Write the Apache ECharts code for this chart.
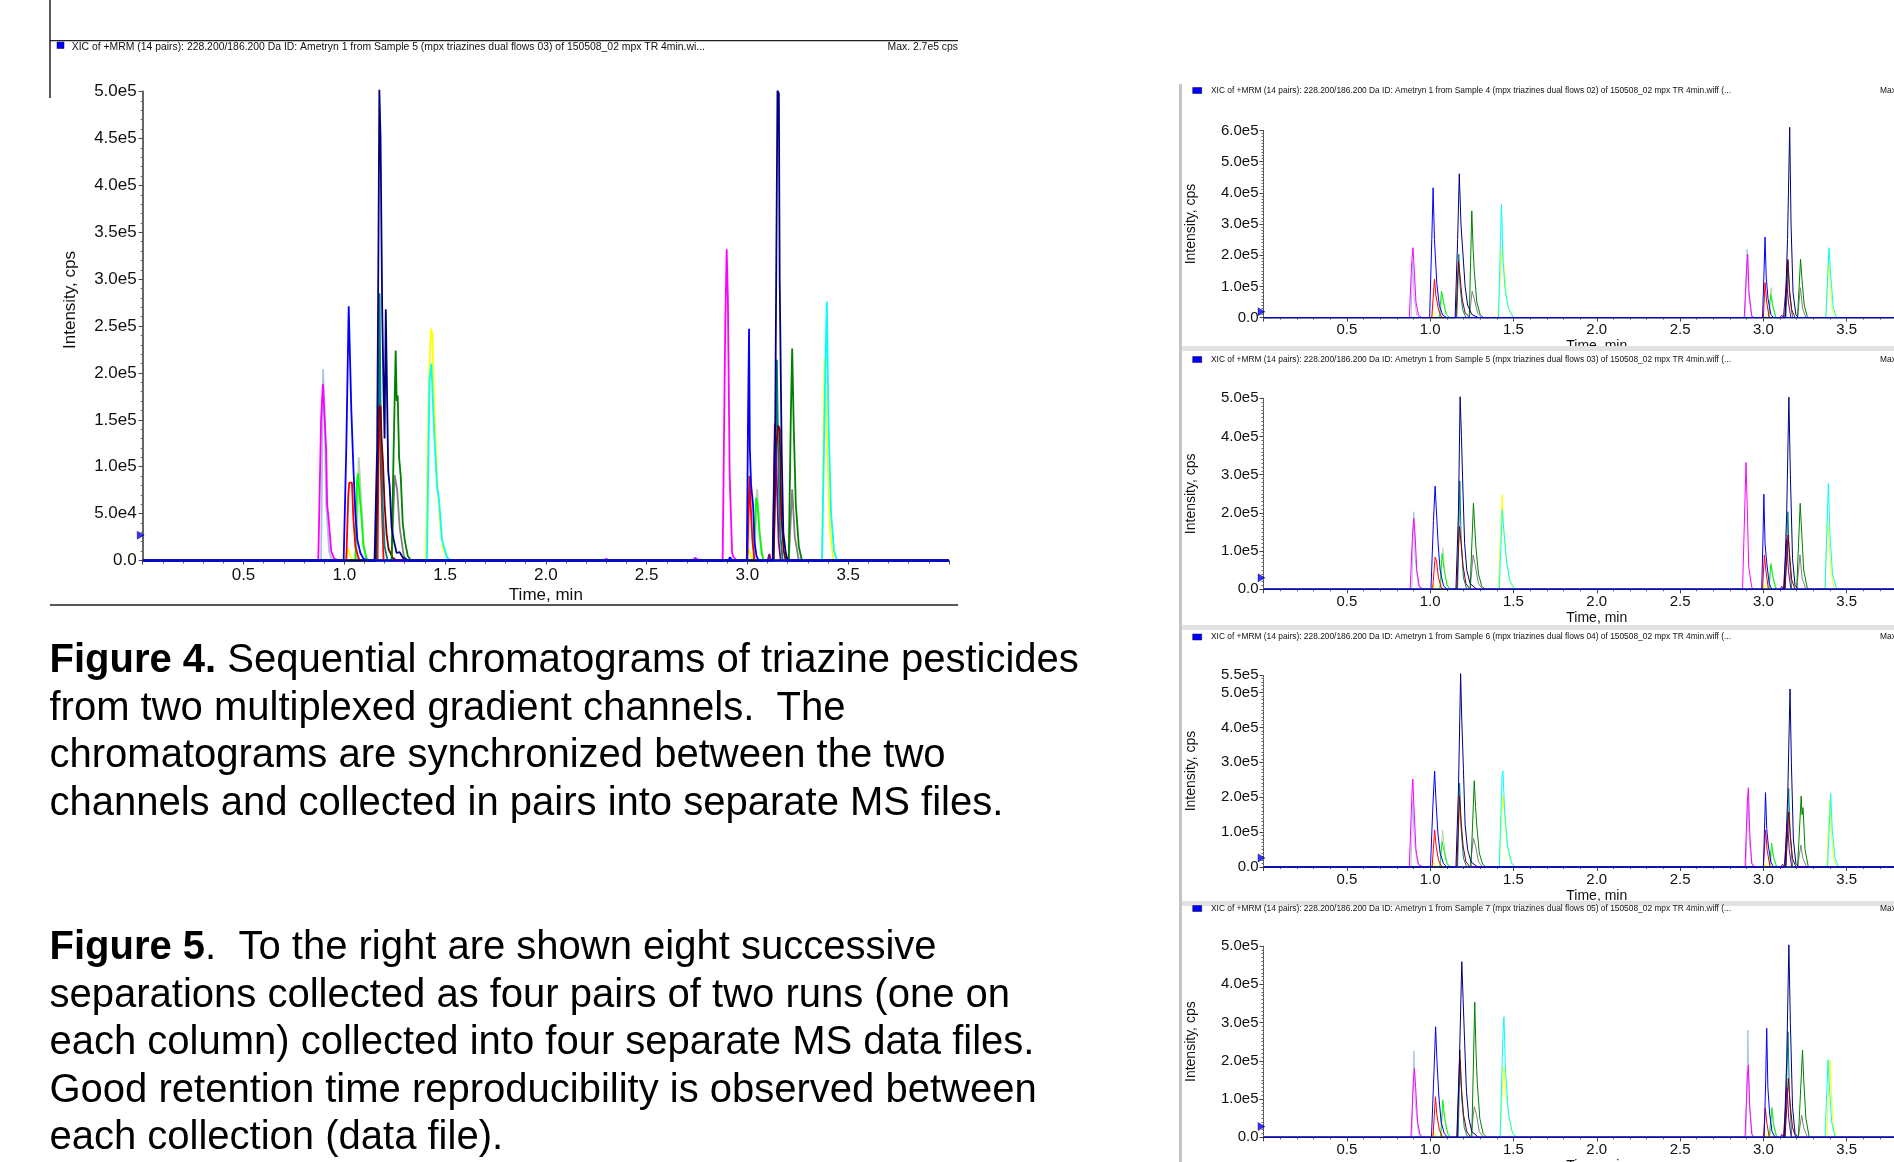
<!DOCTYPE html>
<html>
<head>
<meta charset="utf-8">
<script src="https://cdn.jsdelivr.net/npm/echarts@6/dist/echarts.min.js"></script>
<style>
  html, body { margin: 0; padding: 0; background: #fff; }
  #chart { width: 1894px; height: 1162px; }
</style>
</head>
<body>
<div id="chart"></div>
<script>
// trace order: paleBlue, paleGreen, grey, yellow, cyan, magenta, lightGreen, red, teal, maroon, purple, green, navy, blue
const traceColors = ['#a6c4e6', '#b4d2b4', '#808080', '#ffff00', '#00ffff', '#ff00ff', '#00ff00',
  '#ff0000', '#008080', '#800000', '#800080', '#008000', '#000080', '#0000ff']

const timeRange = [0, 4]
const timeStep = 0.5
const intensityMax = [5e5, 6e5, 5e5, 5.5e5, 5e5]
const intensityStep = [5e4, 1e5, 1e5, 1e5, 1e5]
const thresholdMarks = [2.7e4, 1.9e4, 3e4, 2.6e4, 2.8e4]

const mainSample = 'Sample 5 (mpx triazines dual flows 03) of 150508_02 mpx TR 4min.wi...'
const panelSamples = [
  'Sample 4 (mpx triazines dual flows 02) of 150508_02 mpx TR 4min.wiff (...',
  'Sample 5 (mpx triazines dual flows 03) of 150508_02 mpx TR 4min.wiff (...',
  'Sample 6 (mpx triazines dual flows 04) of 150508_02 mpx TR 4min.wiff (...',
  'Sample 7 (mpx triazines dual flows 05) of 150508_02 mpx TR 4min.wiff (...'
]

// big chromatogram, sample 5: [time min, intensity cps]
const mainTraces = [
  [[0,0],[0.885,0],[0.895,2.04e5],[0.902,1.6e5],[0.91,6e4],[0.925,1e4],[0.94,0],[4,0]],
  [[0,0],[1.06,0],[1.072,1.1e5],[1.08,8e4],[1.095,2e4],[1.11,0],[3.035,0],[3.048,7.6e4],[3.06,3e4],[3.08,0],[4,0]],
  [[0,0],[1.235,0],[1.25,9.1e4],[1.262,7.6e4],[1.275,3.5e4],[1.295,5e3],[1.31,0],[3.205,0],[3.222,7.6e4],[3.235,2.5e4],[3.255,0],[4,0]],
  [[0,0],[1.005,0],[1.018,1.3e4],[1.03,5e3],[1.045,0],[1.405,0],[1.42,1.9e5],[1.43,2.47e5],[1.437,2.42e5],[1.447,1.65e5],[1.46,8.8e4],[1.475,4e4],[1.49,1.2e4],[1.52,0],
   [2.995,0],[3.005,1.3e4],[3.02,3e3],[3.03,0],[3.37,0],[3.383,2.16e5],[3.392,1.5e5],[3.405,6e4],[3.41,3e4],[3.427,0],[4,0]],
  [[0,0],[1.41,0],[1.423,1.92e5],[1.432,2.1e5],[1.445,1.4e5],[1.46,7.9e4],[1.47,6.5e4],[1.485,2.2e4],[1.51,3e3],[1.53,0],
   [3.37,0],[3.388,2.2e5],[3.394,2.76e5],[3.402,1.5e5],[3.415,5e4],[3.43,1e4],[3.445,0],[4,0]],
  [[0,0],[0.871,0],[0.885,1.5e5],[0.894,1.88e5],[0.903,1.86e5],[0.91,1.2e5],[0.915,6e4],[0.922,4.5e4],[0.935,1e4],[0.95,2e3],[0.975,0],
   [2.29,0],[2.3,2e3],[2.31,0],[2.73,0],[2.74,3e3],[2.76,0],
   [2.877,0],[2.89,2.5e5],[2.897,3.32e5],[2.903,2.8e5],[2.912,9e4],[2.924,8e3],[2.93,4e3],[2.947,0],[4,0]],
  [[0,0],[1.055,0],[1.063,8.5e4],[1.068,9.3e4],[1.076,7e4],[1.085,4.7e4],[1.095,1.5e4],[1.11,3e3],[1.12,0],
   [3.03,0],[3.043,6.7e4],[3.05,6e4],[3.06,3e4],[3.07,8e3],[3.08,0],[4,0]],
  [[0,0],[1.01,0],[1.02,7e4],[1.025,8.3e4],[1.038,8.3e4],[1.045,4.5e4],[1.055,1.5e4],[1.07,3e3],[1.08,0],
   [1.165,0],[1.175,2.24e5],[1.182,9e4],[1.195,0],[3.0,0],[3.01,9e4],[3.018,5e4],[3.025,2e4],[3.035,0],[4,0]],
  [[0,0],[1.16,0],[1.17,1.5e5],[1.175,2.85e5],[1.18,1.6e5],[1.19,6e4],[1.2,1.5e4],[1.215,0],
   [3.13,0],[3.14,1.2e5],[3.146,2.14e5],[3.152,1.2e5],[3.162,3e4],[3.175,0],[4,0]],
  [[0,0],[1.155,0],[1.163,6e4],[1.172,1.62e5],[1.18,1.65e5],[1.185,1.3e5],[1.192,1.05e5],[1.2,6e4],[1.21,2.8e4],[1.22,1.2e4],[1.24,3e3],[1.26,0],
   [3.13,0],[3.142,1.2e5],[3.152,1.44e5],[3.16,1.4e5],[3.168,4.7e4],[3.172,4.5e4],[3.18,1e4],[3.19,0],[4,0]],
  [[0,0],[3.1,0],[3.109,7e3],[3.115,0],[3.125,0],[3.136,1.46e5],[3.145,9e4],[3.155,2e4],[3.165,0],[4,0]],
  [[0,0],[1.235,0],[1.245,1.2e5],[1.255,2.24e5],[1.26,1.7e5],[1.265,1.76e5],[1.272,1.1e5],[1.28,9e4],[1.29,4e4],[1.3,2.2e4],[1.315,5e3],[1.33,0],
   [3.205,0],[3.215,1.5e5],[3.222,2.26e5],[3.23,1.4e5],[3.24,6e4],[3.255,1.5e4],[3.27,0],[4,0]],
  [[0,0],[1.15,0],[1.163,1.2e5],[1.17,3.5e5],[1.174,5.02e5],[1.18,4.5e5],[1.188,2.7e5],[1.195,1.8e5],[1.2,1.3e5],[1.206,2.68e5],[1.211,1.95e5],[1.218,9.5e4],[1.225,8e4],
   [1.235,3.5e4],[1.245,2.2e4],[1.26,8e3],[1.275,9e3],[1.29,3e3],[1.32,0],
   [3.126,0],[3.138,1.5e5],[3.149,5.01e5],[3.156,4.98e5],[3.16,3e5],[3.17,1.15e5],[3.178,3e4],[3.19,8e3],[3.2,0],[4,0]],
  [[0,0],[0.997,0],[1.01,1.2e5],[1.022,2.71e5],[1.028,2.2e5],[1.035,1.6e5],[1.045,1e5],[1.055,5e4],[1.065,2.2e4],[1.08,8e3],[1.095,2e3],[1.12,0],
   [2.905,0],[2.914,3.4e3],[2.925,0],[2.997,0],[3.003,1.5e5],[3.008,2.47e5],[3.012,1.2e5],[3.018,8.1e4],[3.022,8.1e4],[3.028,5.9e4],[3.035,2e4],[3.045,5e3],[3.055,0],[4,0]]
]

const sample4Traces = [
  [[0,0],[0.885,0],[0.895,1.8e5],[0.903,7e4],[0.92,8e3],[0.94,0],[2.89,0],[2.902,2.19e5],[2.91,8e4],[2.93,0],[4,0]],
  [[0,0],[1.06,0],[1.072,8e4],[1.085,4e4],[1.1,8e3],[1.12,0],[3.035,0],[3.046,9.6e4],[3.058,3e4],[3.075,0],[4,0]],
  [[0,0],[1.235,0],[1.252,8.5e4],[1.265,6e4],[1.285,1.5e4],[1.31,0],[3.205,0],[3.222,9.6e4],[3.235,3e4],[3.255,0],[4,0]],
  [[0,0],[1.005,0],[1.018,1.5e4],[1.035,0],[1.405,0],[1.425,1.6e5],[1.433,2.35e5],[1.445,1.5e5],[1.46,6e4],[1.48,1.5e4],[1.5,0],[2.995,0],[3.005,1.2e4],[3.02,0],[3.375,0],[3.392,1.98e5],[3.402,1e5],[3.415,2e4],[3.43,0],[4,0]],
  [[0,0],[1.41,0],[1.428,3.63e5],[1.438,1.8e5],[1.45,9e4],[1.47,3e4],[1.5,0],[3.375,0],[3.394,2.24e5],[3.405,1.3e5],[3.42,3e4],[3.44,0],[4,0]],
  [[0,0],[0.875,0],[0.89,1.8e5],[0.897,2.24e5],[0.905,1.5e5],[0.915,5e4],[0.93,8e3],[0.95,0],[2.885,0],[2.9,1.6e5],[2.906,2.03e5],[2.914,8e4],[2.93,5e3],[2.945,0],[4,0]],
  [[0,0],[1.055,0],[1.068,8.5e4],[1.08,5e4],[1.095,1.2e4],[1.115,0],[3.03,0],[3.044,7.5e4],[3.055,4e4],[3.075,0],[4,0]],
  [[0,0],[1.01,0],[1.026,1.23e5],[1.035,7e4],[1.05,2.5e4],[1.07,0],[3.0,0],[3.01,1.12e5],[3.02,5e4],[3.035,0],[4,0]],
  [[0,0],[1.16,0],[1.172,2.03e5],[1.18,1e5],[1.195,2.5e4],[1.215,0],[3.135,0],[3.148,1.81e5],[3.156,8e4],[3.175,0],[4,0]],
  [[0,0],[1.155,0],[1.17,1.81e5],[1.18,1.3e5],[1.192,6e4],[1.21,1.5e4],[1.24,0],[3.13,0],[3.147,1.87e5],[3.157,9e4],[3.17,2.5e4],[3.19,0],[4,0]],
  [[0,0],[3.1,0],[3.11,8e3],[3.12,0],[3.128,0],[3.14,1.2e5],[3.15,5e4],[3.165,0],[4,0]],
  [[0,0],[1.235,0],[1.25,3.42e5],[1.258,2.2e5],[1.265,1.5e5],[1.28,5e4],[1.3,1e4],[1.32,0],[3.205,0],[3.223,1.87e5],[3.232,1.2e5],[3.245,4e4],[3.265,0],[4,0]],
  [[0,0],[1.15,0],[1.165,2.5e5],[1.175,4.61e5],[1.185,3e5],[1.195,2.2e5],[1.21,1e5],[1.225,4e4],[1.25,1e4],[1.29,0],[3.13,0],[3.145,2.5e5],[3.158,6.1e5],[3.166,3e5],[3.178,8e4],[3.195,1e4],[3.21,0],[4,0]],
  [[0,0],[0.997,0],[1.01,2.5e5],[1.018,4.16e5],[1.026,2.5e5],[1.04,1.1e5],[1.055,4e4],[1.075,8e3],[1.1,0],[2.995,0],[3.004,1.5e5],[3.01,2.58e5],[3.017,1.3e5],[3.028,6e4],[3.045,1e4],[3.06,0],[4,0]]
]

const sample5Traces = [
  [[0,0],[0.89,0],[0.902,2.03e5],[0.91,8e4],[0.93,8e3],[0.95,0],[4,0]],
  [[0,0],[1.062,0],[1.076,1.07e5],[1.088,4.5e4],[1.105,8e3],[1.125,0],[3.035,0],[3.048,7e4],[3.06,3e4],[3.08,0],[4,0]],
  [[0,0],[1.24,0],[1.258,9e4],[1.27,6.5e4],[1.29,1.5e4],[1.315,0],[3.2,0],[3.22,9e4],[3.232,3e4],[3.255,0],[4,0]],
  [[0,0],[1.008,0],[1.02,1.4e4],[1.035,0],[1.41,0],[1.425,1.8e5],[1.432,2.47e5],[1.442,1.6e5],[1.455,8.5e4],[1.475,2.5e4],[1.5,0],[2.997,0],[3.006,1.2e4],[3.02,0],[3.37,0],[3.385,1.9e5],[3.395,1.2e5],[3.405,5e4],[3.425,0],[4,0]],
  [[0,0],[1.415,0],[1.433,2.08e5],[1.443,1.5e5],[1.46,7e4],[1.48,2e4],[1.51,0],[3.37,0],[3.39,2.77e5],[3.4,1.4e5],[3.415,4e4],[3.44,0],[4,0]],
  [[0,0],[0.88,0],[0.895,1.5e5],[0.902,1.86e5],[0.91,1.4e5],[0.92,5e4],[0.935,8e3],[0.96,0],[2.875,0],[2.89,2.4e5],[2.896,3.32e5],[2.903,2.2e5],[2.912,6e4],[2.93,5e3],[2.945,0],[4,0]],
  [[0,0],[1.058,0],[1.072,9.4e4],[1.083,5.5e4],[1.1,1.2e4],[1.12,0],[3.032,0],[3.045,6.5e4],[3.056,3.5e4],[3.075,0],[4,0]],
  [[0,0],[1.015,0],[1.03,8.4e4],[1.038,7.5e4],[1.05,3e4],[1.07,0],[2.995,0],[3.006,9e4],[3.015,5e4],[3.03,0],[4,0]],
  [[0,0],[1.165,0],[1.178,2.84e5],[1.186,1.3e5],[1.2,3e4],[1.22,0],[3.13,0],[3.147,2.03e5],[3.155,9e4],[3.17,0],[4,0]],
  [[0,0],[1.16,0],[1.176,1.64e5],[1.186,1.2e5],[1.198,6e4],[1.215,1.5e4],[1.24,0],[3.13,0],[3.148,1.42e5],[3.156,1e5],[3.17,2.5e4],[3.19,0],[4,0]],
  [[0,0],[3.1,0],[3.11,8e3],[3.12,0],[3.128,0],[3.14,1.3e5],[3.15,5e4],[3.165,0],[4,0]],
  [[0,0],[1.24,0],[1.26,2.25e5],[1.268,1.6e5],[1.275,1.1e5],[1.29,4e4],[1.31,8e3],[1.33,0],[3.2,0],[3.221,2.25e5],[3.23,1.5e5],[3.242,5e4],[3.265,0],[4,0]],
  [[0,0],[1.155,0],[1.17,2e5],[1.18,5.04e5],[1.188,4e5],[1.197,2.6e5],[1.207,1.2e5],[1.22,5e4],[1.24,1.5e4],[1.28,0],[3.125,0],[3.14,2e5],[3.153,5.03e5],[3.162,3e5],[3.175,8e4],[3.19,1e4],[3.21,0],[4,0]],
  [[0,0],[1.005,0],[1.02,1.8e5],[1.03,2.7e5],[1.036,2.2e5],[1.048,1.2e5],[1.06,5e4],[1.08,1e4],[1.1,0],[2.99,0],[2.998,1.4e5],[3.003,2.49e5],[3.01,1.2e5],[3.02,7e4],[3.035,1.5e4],[3.05,0],[4,0]]
]

const sample6Traces = [
  [[0,0],[0.885,0],[0.896,1.9e5],[0.905,7e4],[0.925,8e3],[0.945,0],[2.895,0],[2.908,2.0e5],[2.916,7e4],[2.935,0],[4,0]],
  [[0,0],[1.06,0],[1.075,1.06e5],[1.088,4.5e4],[1.105,8e3],[1.125,0],[3.04,0],[3.052,5e4],[3.064,2e4],[3.08,0],[4,0]],
  [[0,0],[1.24,0],[1.26,8.2e4],[1.273,6e4],[1.29,1.5e4],[1.315,0],[3.205,0],[3.225,6.3e4],[3.237,2.5e4],[3.26,0],[4,0]],
  [[0,0],[1.008,0],[1.02,1.4e4],[1.035,0],[1.415,0],[1.43,1.5e5],[1.438,2.06e5],[1.448,1.4e5],[1.46,7e4],[1.48,2e4],[1.505,0],[3.0,0],[3.01,1e4],[3.025,0],[3.38,0],[3.398,1.92e5],[3.408,1e5],[3.42,3e4],[3.44,0],[4,0]],
  [[0,0],[1.415,0],[1.432,2.6e5],[1.437,2.75e5],[1.447,1.6e5],[1.465,6e4],[1.49,1e4],[1.515,0],[3.385,0],[3.404,2.1e5],[3.413,1.1e5],[3.43,2.5e4],[3.45,0],[4,0]],
  [[0,0],[0.875,0],[0.89,2e5],[0.896,2.52e5],[0.904,1.6e5],[0.915,5e4],[0.93,8e3],[0.955,0],[2.89,0],[2.904,1.9e5],[2.91,2.27e5],[2.918,1e5],[2.93,1e4],[2.95,0],[4,0]],
  [[0,0],[1.058,0],[1.072,7.3e4],[1.084,4.5e4],[1.1,1e4],[1.12,0],[3.035,0],[3.05,6.8e4],[3.06,3e4],[3.08,0],[4,0]],
  [[0,0],[1.012,0],[1.027,1.06e5],[1.036,6e4],[1.05,2e4],[1.07,0],[3.0,0],[3.013,1.06e5],[3.022,5e4],[3.04,0],[4,0]],
  [[0,0],[1.165,0],[1.177,2.4e5],[1.186,1.1e5],[1.2,2.5e4],[1.22,0],[3.135,0],[3.152,2.25e5],[3.16,1e5],[3.175,0],[4,0]],
  [[0,0],[1.16,0],[1.176,2.04e5],[1.186,1.3e5],[1.198,6e4],[1.215,1.5e4],[1.24,0],[3.135,0],[3.152,1.58e5],[3.162,9e4],[3.175,2.5e4],[3.195,0],[4,0]],
  [[0,0],[3.105,0],[3.115,8e3],[3.125,0],[3.133,0],[3.145,1.3e5],[3.155,5e4],[3.17,0],[4,0]],
  [[0,0],[1.245,0],[1.265,2.47e5],[1.273,1.7e5],[1.28,1.2e5],[1.295,4e4],[1.315,8e3],[1.335,0],[3.205,0],[3.227,2.03e5],[3.232,1.5e5],[3.238,1.7e5],[3.25,5e4],[3.27,0],[4,0]],
  [[0,0],[1.155,0],[1.17,2.2e5],[1.183,5.54e5],[1.19,4.2e5],[1.2,2.8e5],[1.21,1.2e5],[1.225,5e4],[1.245,1.5e4],[1.285,0],[3.13,0],[3.146,2e5],[3.16,5.1e5],[3.168,3e5],[3.18,8e4],[3.195,1e4],[3.215,0],[4,0]],
  [[0,0],[1.002,0],[1.017,1.8e5],[1.027,2.75e5],[1.034,2e5],[1.046,1e5],[1.06,4e4],[1.08,1e4],[1.1,0],[3.0,0],[3.008,1.3e5],[3.013,2.13e5],[3.02,1.1e5],[3.03,6e4],[3.045,1.5e4],[3.06,0],[4,0]]
]

const sample7Traces = [
  [[0,0],[0.89,0],[0.903,2.26e5],[0.911,9e4],[0.93,1e4],[0.95,0],[2.895,0],[2.907,2.8e5],[2.915,9e4],[2.935,0],[4,0]],
  [[0,0],[1.065,0],[1.078,8e4],[1.09,4e4],[1.105,8e3],[1.125,0],[3.04,0],[3.052,8e4],[3.064,3e4],[3.08,0],[4,0]],
  [[0,0],[1.245,0],[1.265,8e4],[1.278,6e4],[1.295,1.5e4],[1.32,0],[3.21,0],[3.23,5.8e4],[3.242,2.5e4],[3.265,0],[4,0]],
  [[0,0],[1.01,0],[1.022,1.4e4],[1.037,0],[1.42,0],[1.435,1.4e5],[1.443,1.85e5],[1.452,1.2e5],[1.465,8.5e4],[1.485,2e4],[1.51,0],[3.0,0],[3.01,1e4],[3.025,0],[3.38,0],[3.395,1.6e5],[3.4,2.02e5],[3.41,1e5],[3.42,3e4],[3.44,0],[4,0]],
  [[0,0],[1.42,0],[1.438,2.8e5],[1.443,3.15e5],[1.452,1.8e5],[1.47,6e4],[1.495,1e4],[1.52,0],[3.37,0],[3.388,2.02e5],[3.395,1.4e5],[3.41,4e4],[3.43,0],[4,0]],
  [[0,0],[0.885,0],[0.9,1.5e5],[0.906,1.8e5],[0.913,1.3e5],[0.925,4e4],[0.94,6e3],[0.96,0],[2.89,0],[2.904,1.6e5],[2.91,1.89e5],[2.918,8e4],[2.93,8e3],[2.95,0],[4,0]],
  [[0,0],[1.062,0],[1.076,9.8e4],[1.088,5e4],[1.105,1e4],[1.125,0],[3.035,0],[3.05,7.6e4],[3.06,3.5e4],[3.08,0],[4,0]],
  [[0,0],[1.017,0],[1.032,1.06e5],[1.04,6e4],[1.055,2e4],[1.075,0],[3.0,0],[3.012,7.6e4],[3.02,4e4],[3.035,0],[4,0]],
  [[0,0],[1.168,0],[1.18,2.02e5],[1.19,1e5],[1.205,2.5e4],[1.225,0],[3.13,0],[3.148,2.76e5],[3.156,1.2e5],[3.17,0],[4,0]],
  [[0,0],[1.163,0],[1.178,2.28e5],[1.188,1.3e5],[1.2,6e4],[1.22,1.5e4],[1.245,0],[3.13,0],[3.15,1.54e5],[3.16,9e4],[3.175,2.5e4],[3.195,0],[4,0]],
  [[0,0],[3.1,0],[3.11,8e3],[3.12,0],[3.13,0],[3.142,1.3e5],[3.152,5e4],[3.167,0],[4,0]],
  [[0,0],[1.25,0],[1.268,3.53e5],[1.275,2.3e5],[1.282,1.5e5],[1.298,5e4],[1.318,1e4],[1.34,0],[3.21,0],[3.235,2.28e5],[3.242,1.5e5],[3.255,5e4],[3.275,0],[4,0]],
  [[0,0],[1.16,0],[1.176,2e5],[1.19,4.59e5],[1.198,3.6e5],[1.207,2.5e5],[1.218,1.2e5],[1.232,5e4],[1.25,1.5e4],[1.29,0],[3.125,0],[3.14,2e5],[3.153,5.03e5],[3.162,3e5],[3.175,8e4],[3.19,1e4],[3.21,0],[4,0]],
  [[0,0],[1.008,0],[1.024,1.8e5],[1.033,2.89e5],[1.04,2.1e5],[1.052,1.1e5],[1.066,4e4],[1.085,1e4],[1.105,0],[3.005,0],[3.014,1.5e5],[3.02,2.85e5],[3.027,1.3e5],[3.038,6e4],[3.052,1.5e4],[3.07,0],[4,0]]
]

const allTraces = [mainTraces, sample4Traces, sample5Traces, sample6Traces, sample7Traces]

// layout of the five plot areas (px)
const grids = [
  { left: 142.7, top: 91.6, width: 806.3, height: 468.9, outerBoundsMode: 'none', containLabel: false },
  { left: 1263.5, top: 130.4, width: 666.5, height: 187.2, outerBoundsMode: 'none', containLabel: false },
  { left: 1263.5, top: 398.3, width: 666.5, height: 191, outerBoundsMode: 'none', containLabel: false },
  { left: 1263.5, top: 675, width: 666.5, height: 192, outerBoundsMode: 'none', containLabel: false },
  { left: 1263.5, top: 946, width: 666.5, height: 191.3, outerBoundsMode: 'none', containLabel: false }
]
const headerY = [46.7, 90.5, 359.5, 637, 908.5]

const font = "'Liberation Sans', Arial, sans-serif"

function timeLabel(v) {
  if (v <= timeRange[0] || v >= timeRange[1]) return ''
  return v.toFixed(1)
}
function intensityLabel(v) {
  if (v === 0) return '0.0'
  return v.toExponential(1).replace('e+', 'e')
}

const chart = echarts.init(document.getElementById('chart'))

const xAxes = grids.map(function (g, i) {
  const big = i === 0
  return {
    type: 'value', gridIndex: i, min: timeRange[0], max: timeRange[1], interval: timeStep,
    axisLine: { show: true, onZero: false, lineStyle: { color: '#444', width: big ? 1.5 : 1 } },
    axisTick: { show: true, length: 4, lineStyle: { color: '#444' } },
    minorTick: { show: true, splitNumber: 5, length: big ? 3 : 2, lineStyle: { color: '#555' } },
    splitLine: { show: false },
    minorSplitLine: { show: false },
    axisLabel: { formatter: timeLabel, fontSize: big ? 17 : 15, color: '#111', margin: big ? 6 : 5, fontFamily: font },
    name: 'Time, min', nameLocation: 'middle', nameGap: big ? 26 : 22,
    nameTextStyle: { fontSize: big ? 17 : 14, color: '#111', fontFamily: font }
  }
})

const yAxes = grids.map(function (g, i) {
  const big = i === 0
  return {
    type: 'value', gridIndex: i, min: 0, max: intensityMax[i], interval: intensityStep[i],
    axisLine: { show: true, lineStyle: { color: big ? '#666' : '#444', width: big ? 2 : 1, type: big ? 'solid' : 'dotted' } },
    axisTick: { show: true, length: 4, lineStyle: { color: '#444' } },
    minorTick: { show: true, splitNumber: big ? 5 : 10, length: 2, lineStyle: { color: '#666' } },
    splitLine: { show: false },
    minorSplitLine: { show: false },
    axisLabel: { formatter: intensityLabel, fontSize: big ? 17 : 15, color: '#111', margin: big ? 6 : 5, fontFamily: font },
    name: big ? '' : 'Intensity, cps', nameLocation: 'middle', nameGap: 65,
    nameTextStyle: { fontSize: 14, color: '#111', fontFamily: font }
  }
})

const series = []
allTraces.forEach(function (traces, g) {
  traces.forEach(function (pts, i) {
    series.push({
      type: 'line', xAxisIndex: g, yAxisIndex: g, data: pts,
      symbol: 'none', silent: true, clip: false,
      lineStyle: { color: traceColors[i], width: g === 0 ? 1.8 : 1 }
    })
  })
  // baseline threshold marker
  series.push({
    type: 'scatter', xAxisIndex: g, yAxisIndex: g, data: [[0, thresholdMarks[g]]],
    symbol: 'triangle', symbolRotate: -90, symbolSize: [8, 7], symbolOffset: [-2, 0],
    clip: false, silent: true, z: 5,
    itemStyle: { color: '#0000ff', borderColor: '#000066', borderWidth: 0.5 }
  })
})

const graphics = [
  // main chart frame
  { type: 'line', shape: { x1: 50, y1: 0, x2: 50, y2: 98 }, style: { stroke: '#222', lineWidth: 1.5 } },
  { type: 'line', shape: { x1: 50, y1: 40.7, x2: 958, y2: 40.7 }, style: { stroke: '#222', lineWidth: 1.2 } },
  { type: 'line', shape: { x1: 50, y1: 605, x2: 958, y2: 605 }, style: { stroke: '#555', lineWidth: 2 } },
  { type: 'rect', shape: { x: 57, y: 42, width: 7, height: 6.5 }, style: { fill: '#0000ff', stroke: '#000044', lineWidth: 0.5 } },
  { type: 'text', x: 71.7, y: headerY[0], style: {
      text: 'XIC of +MRM (14 pairs): 228.200/186.200 Da ID: Ametryn 1 from ' + mainSample,
      fontSize: 10.4, fontFamily: font, fill: '#111', verticalAlign: 'middle' } },
  { type: 'text', x: 958, y: headerY[0], style: {
      text: 'Max. 2.7e5 cps', fontSize: 10.4, fontFamily: font, fill: '#111', align: 'right', verticalAlign: 'middle' } },
  { type: 'text', x: 70, y: 300, rotation: Math.PI / 2, style: {
      text: 'Intensity, cps', fontSize: 17, fontFamily: font, fill: '#111', align: 'center', verticalAlign: 'middle' } },
  // captions
  { type: 'text', x: 49.5, y: 637.3, style: {
      text: '{b|Figure 4.} Sequential chromatograms of triazine pesticides\nfrom two multiplexed gradient channels.  The\nchromatograms are synchronized between the two\nchannels and collected in pairs into separate MS files.',
      fontSize: 40, lineHeight: 47.5, fontFamily: font, fill: '#000',
      rich: { b: { fontSize: 40, lineHeight: 47.5, fontWeight: 'bold', fontFamily: font, fill: '#000' } } } },
  { type: 'text', x: 49.5, y: 924.3, style: {
      text: '{b|Figure 5}.  To the right are shown eight successive\nseparations collected as four pairs of two runs (one on\neach column) collected into four separate MS data files.\nGood retention time reproducibility is observed between\neach collection (data file).',
      fontSize: 40, lineHeight: 47.5, fontFamily: font, fill: '#000',
      rich: { b: { fontSize: 40, lineHeight: 47.5, fontWeight: 'bold', fontFamily: font, fill: '#000' } } } },
  // right-hand panel frames
  { type: 'rect', z: 50, shape: { x: 1179, y: 84, width: 3, height: 1078 }, style: { fill: '#c4c4c4' } },
  { type: 'rect', z: 50, shape: { x: 1182, y: 346, width: 712, height: 10 }, style: { fill: '#fff' } },
  { type: 'rect', z: 51, shape: { x: 1182, y: 346, width: 712, height: 5 }, style: { fill: '#e2e2e2' } },
  { type: 'rect', z: 51, shape: { x: 1182, y: 625, width: 712, height: 5 }, style: { fill: '#e2e2e2' } },
  { type: 'rect', z: 51, shape: { x: 1182, y: 901, width: 712, height: 5 }, style: { fill: '#e2e2e2' } }
]

panelSamples.forEach(function (sample, k) {
  const y = headerY[k + 1]
  graphics.push(
    { type: 'rect', z: 52, shape: { x: 1192.7, y: y - 3, width: 9, height: 6 }, style: { fill: '#0000ff', stroke: '#000044', lineWidth: 0.5 } },
    { type: 'text', z: 52, x: 1211, y: y, style: {
        text: 'XIC of +MRM (14 pairs): 228.200/186.200 Da ID: Ametryn 1 from ' + sample,
        fontSize: 8.4, fontFamily: font, fill: '#111', verticalAlign: 'middle' } },
    { type: 'text', z: 52, x: 1880, y: y, style: {
        text: 'Max.', fontSize: 8.4, fontFamily: font, fill: '#111', verticalAlign: 'middle' } }
  )
})

chart.setOption({
  animation: false,
  backgroundColor: '#ffffff',
  textStyle: { fontFamily: font },
  grid: grids,
  xAxis: xAxes,
  yAxis: yAxes,
  series: series,
  graphic: { elements: graphics }
})
</script>
</body>
</html>
